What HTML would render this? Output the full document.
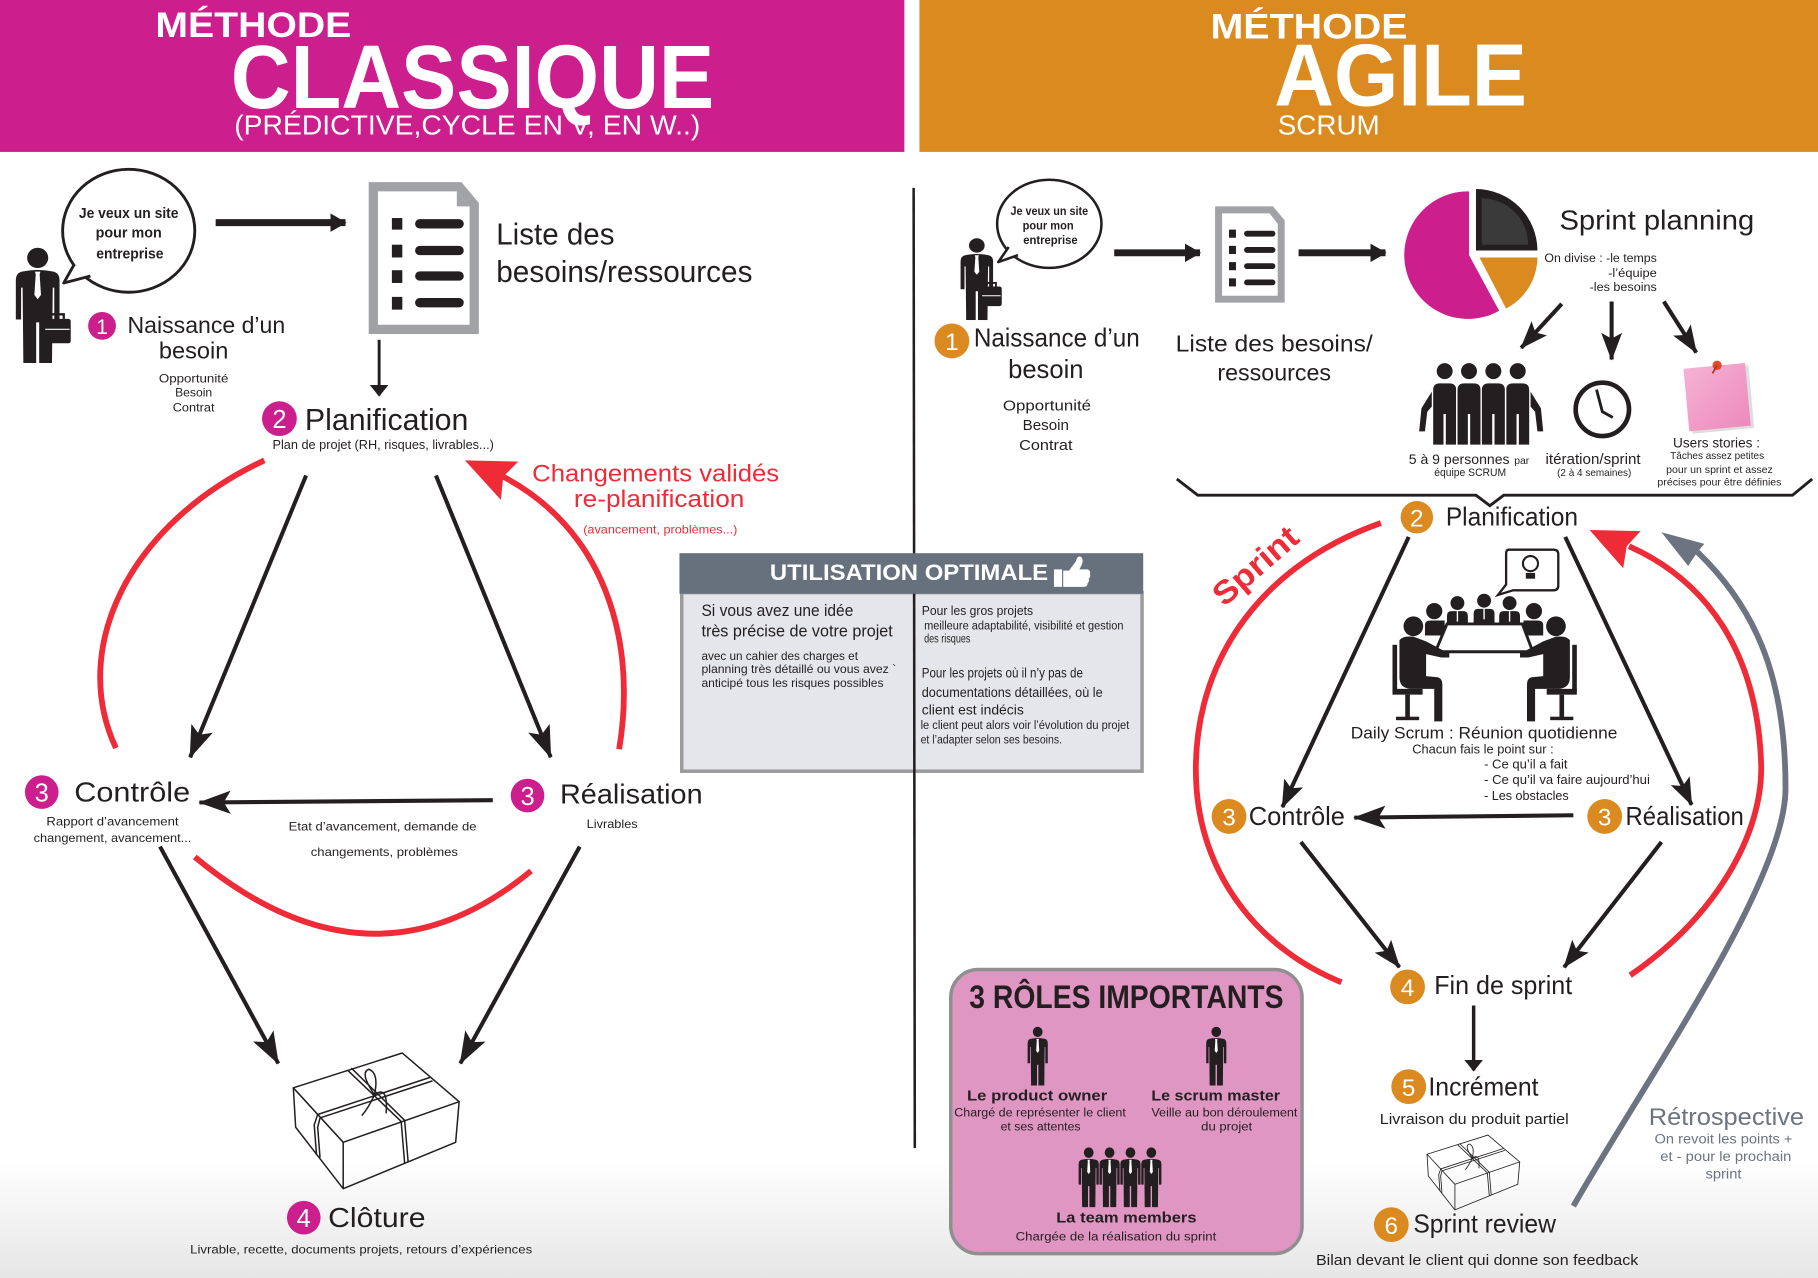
<!DOCTYPE html>
<html><head><meta charset="utf-8">
<style>
html,body{margin:0;padding:0;background:#fff;}
svg{display:block;}
text{font-family:"Liberation Sans",sans-serif;fill:#231f20;}
.w{fill:#fff;}
.r{fill:#EE2B36;}
.g{fill:#6B7480;}
</style></head><body>
<svg xmlns="http://www.w3.org/2000/svg" xmlns:xlink="http://www.w3.org/1999/xlink" width="1818" height="1278" viewBox="0 0 1568 1102" preserveAspectRatio="none">
<defs>
<linearGradient id="bg" x1="0" y1="0" x2="0" y2="1"><stop offset="0" stop-color="#fff"/><stop offset="1" stop-color="#e6e6e6"/></linearGradient>
<linearGradient id="pk" x1="0" y1="0" x2="1" y2="1"><stop offset="0" stop-color="#F6B4D5"/><stop offset="1" stop-color="#EC88BA"/></linearGradient>
<marker id="ab" viewBox="0 0 28 20" refX="27" refY="10" markerWidth="28" markerHeight="20" orient="auto" markerUnits="userSpaceOnUse"><path d="M0,0 L28,10 L0,20 L6,10 Z" fill="#231f20"/></marker>
<marker id="ab2" viewBox="0 0 24 18" refX="23" refY="9" markerWidth="24" markerHeight="18" orient="auto" markerUnits="userSpaceOnUse"><path d="M0,0 L24,9 L0,18 L5,9 Z" fill="#231f20"/></marker>
<marker id="at" viewBox="0 0 14 16" refX="13" refY="8" markerWidth="14" markerHeight="16" orient="auto" markerUnits="userSpaceOnUse"><path d="M0,0 L14,8 L0,16 Z" fill="#231f20"/></marker>
<marker id="as" viewBox="0 0 10 16" refX="9" refY="8" markerWidth="10" markerHeight="16" orient="auto" markerUnits="userSpaceOnUse"><path d="M0,0 L10,8 L0,16 Z" fill="#231f20"/></marker>
<symbol id="man" viewBox="0 0 30 80" preserveAspectRatio="none">
<circle cx="15" cy="7.5" r="7" fill="#231f20"/>
<path d="M4.5,17 Q15,14.5 25.5,17 Q29.5,18 29.5,23 L29.5,50 L26,50 L26,28 L25,28 L24.5,80 L16,80 L16,52 L14,52 L14,80 L5.5,80 L5,28 L4,28 L4,50 L0.5,50 L0.5,23 Q0.5,18 4.5,17 Z" fill="#231f20"/>
<path d="M13.2,17 L16.8,17 L16.3,19 L17.2,33 L15,36 L12.8,33 L13.7,19 Z" fill="#fff"/>
</symbol>
<symbol id="box" viewBox="248 903 152 127" preserveAspectRatio="none">
<g fill="none" stroke="#231f20" stroke-width="1.3" stroke-linejoin="round">
<path d="M253,938 L347,908 L396,950 L296,985 Z"/>
<path d="M253,938 L255,972 L296,1025 L296,985"/>
<path d="M296,1025 L393,985 L396,950"/>
<path d="M300,923 L346,967 M303,921 L349,966"/>
<path d="M371,929 L274,961 M373,932 L276,964"/>
<path d="M274,961 L271,970 L273,996 M276,964 L274,972 L276,998"/>
<path d="M346,967 L349,1003 M349,966 L352,1002"/>
<path d="M323,944 Q310,925 318,922 Q327,925 323,944 Q335,935 333,960 M323,944 Q318,955 312,962"/>
</g>
</symbol>
</defs>

<!-- background -->
<rect width="1568" height="1102" fill="#fff"/>
<rect x="0" y="1000" width="1568" height="102" fill="url(#bg)"/>

<!-- headers -->
<rect x="0" y="0" width="780" height="131" fill="#CC1F8D"/>
<rect x="793" y="0" width="775" height="131" fill="#DB8A1F"/>
<text class="w" x="134" y="32" font-size="30" font-weight="bold" textLength="169" lengthAdjust="spacingAndGlyphs">MÉTHODE</text>
<text class="w" x="199" y="93" font-size="78" font-weight="bold" textLength="417" lengthAdjust="spacingAndGlyphs">CLASSIQUE</text>
<text class="w" x="202" y="116" font-size="24" textLength="402" lengthAdjust="spacingAndGlyphs">(PRÉDICTIVE,CYCLE EN V, EN W..)</text>
<text class="w" x="1044" y="33" font-size="30" font-weight="bold" textLength="170" lengthAdjust="spacingAndGlyphs">MÉTHODE</text>
<text class="w" x="1099" y="91" font-size="76" font-weight="bold" textLength="218" lengthAdjust="spacingAndGlyphs">AGILE</text>
<text class="w" x="1102" y="116" font-size="24" textLength="88" lengthAdjust="spacingAndGlyphs">SCRUM</text>

<!-- ============ LEFT : CLASSIQUE ============ -->
<use href="#man" x="13" y="213" width="39" height="100"/>
<rect x="38" y="275" width="23" height="21" rx="2" fill="#231f20"/>
<path d="M44,275 v-4 h11 v4" fill="none" stroke="#231f20" stroke-width="2"/>
<line x1="39" y1="284" x2="60" y2="284" stroke="#fff" stroke-width="1"/>
<ellipse cx="111" cy="199" rx="57" ry="53" fill="#fff" stroke="#231f20" stroke-width="2.5"/>
<path d="M64,228 L55,244 L78,238" fill="#fff" stroke="#231f20" stroke-width="2.5" stroke-linejoin="round"/>
<text x="111" y="188" text-anchor="middle" font-size="13" font-weight="bold" textLength="86" lengthAdjust="spacingAndGlyphs">Je veux un site</text>
<text x="111" y="205" text-anchor="middle" font-size="13" font-weight="bold" textLength="57" lengthAdjust="spacingAndGlyphs">pour mon</text>
<text x="112" y="223" text-anchor="middle" font-size="13" font-weight="bold" textLength="58" lengthAdjust="spacingAndGlyphs">entreprise</text>

<line x1="186" y1="192" x2="298" y2="192" stroke="#231f20" stroke-width="6" marker-end="url(#at)"/>

<path d="M318,157 L398,157 L413,175 L413,288 L318,288 Z" fill="#A0A2A6"/>
<path d="M326,165 L394,165 L405,178 L405,280 L326,280 Z" fill="#fff"/>
<path d="M394,165 L394,178 L405,178 Z" fill="#A0A2A6"/>
<g fill="#231f20">
<rect x="338" y="188" width="9" height="10"/><rect x="358" y="189" width="42" height="8" rx="4"/>
<rect x="338" y="211" width="9" height="11"/><rect x="358" y="212" width="42" height="8" rx="4"/>
<rect x="338" y="233" width="9" height="11"/><rect x="358" y="234" width="42" height="8" rx="4"/>
<rect x="338" y="256" width="9" height="11"/><rect x="358" y="257" width="42" height="8" rx="4"/>
</g>
<text x="428" y="211" font-size="26" textLength="102" lengthAdjust="spacingAndGlyphs">Liste des</text>
<text x="428" y="243" font-size="26" textLength="221" lengthAdjust="spacingAndGlyphs">besoins/ressources</text>

<circle cx="88" cy="281" r="12" fill="#CC1F8D"/>
<text class="w" x="88" y="288" text-anchor="middle" font-size="18">1</text>
<text x="110" y="287" font-size="20" textLength="136" lengthAdjust="spacingAndGlyphs">Naissance d’un</text>
<text x="137" y="309" font-size="20" textLength="60" lengthAdjust="spacingAndGlyphs">besoin</text>
<text x="167" y="330" text-anchor="middle" font-size="10.5" textLength="60" lengthAdjust="spacingAndGlyphs">Opportunité</text>
<text x="167" y="342" text-anchor="middle" font-size="10.5" textLength="32" lengthAdjust="spacingAndGlyphs">Besoin</text>
<text x="167" y="355" text-anchor="middle" font-size="10.5" textLength="36" lengthAdjust="spacingAndGlyphs">Contrat</text>

<line x1="327" y1="293" x2="327" y2="341" stroke="#231f20" stroke-width="2.5" marker-end="url(#as)"/>

<circle cx="241" cy="361" r="15" fill="#CC1F8D"/>
<text class="w" x="241" y="369" text-anchor="middle" font-size="22">2</text>
<text x="263" y="371" font-size="26" textLength="141" lengthAdjust="spacingAndGlyphs">Planification</text>
<text x="235" y="387" font-size="11" textLength="191" lengthAdjust="spacingAndGlyphs">Plan de projet (RH, risques, livrables...)</text>

<g fill="none" stroke="#EE2B36" stroke-width="5">
<path d="M228,397 C110,452 60,560 100,645"/>
<path d="M534,646 C550,550 520,455 432,410"/>
<path d="M168,739 Q320,865 458,751"/>
</g>
<polygon points="401,397 447,398 434,411 432,431" fill="#EE2B36"/>
<text class="r" x="459" y="415" font-size="21" textLength="213" lengthAdjust="spacingAndGlyphs">Changements validés</text>
<text class="r" x="495" y="437" font-size="21" textLength="147" lengthAdjust="spacingAndGlyphs">re-planification</text>
<text class="r" x="503" y="460" font-size="10.5" textLength="133" lengthAdjust="spacingAndGlyphs">(avancement, problèmes...)</text>

<g stroke="#231f20" stroke-width="3.5" fill="none">
<line x1="264" y1="410" x2="164" y2="653" marker-end="url(#ab)"/>
<line x1="376" y1="410" x2="475" y2="653" marker-end="url(#ab)"/>
<line x1="425" y1="690" x2="172" y2="692" marker-end="url(#ab)"/>
<line x1="138" y1="730" x2="240" y2="917" marker-end="url(#ab)"/>
<line x1="500" y1="730" x2="397" y2="917" marker-end="url(#ab)"/>
</g>

<circle cx="36" cy="683" r="14.5" fill="#CC1F8D"/>
<text class="w" x="36" y="691" text-anchor="middle" font-size="22">3</text>
<text x="64" y="691" font-size="24" textLength="100" lengthAdjust="spacingAndGlyphs">Contrôle</text>
<text x="97" y="712" text-anchor="middle" font-size="10.5" textLength="114" lengthAdjust="spacingAndGlyphs">Rapport d’avancement</text>
<text x="97" y="726" text-anchor="middle" font-size="10.5" textLength="136" lengthAdjust="spacingAndGlyphs">changement, avancement...</text>
<text x="249" y="716" font-size="10.5" textLength="162" lengthAdjust="spacingAndGlyphs">Etat d’avancement, demande de</text>
<text x="268" y="738" font-size="10.5" textLength="127" lengthAdjust="spacingAndGlyphs">changements, problèmes</text>
<circle cx="455" cy="686" r="14.5" fill="#CC1F8D"/>
<text class="w" x="455" y="694" text-anchor="middle" font-size="22">3</text>
<text x="483" y="693" font-size="24" textLength="123" lengthAdjust="spacingAndGlyphs">Réalisation</text>
<text x="506" y="714" font-size="10.5" textLength="44" lengthAdjust="spacingAndGlyphs">Livrables</text>

<use href="#box" x="248" y="903" width="152" height="127"/>
<circle cx="262" cy="1050" r="14.5" fill="#CC1F8D"/>
<text class="w" x="262" y="1058" text-anchor="middle" font-size="22">4</text>
<text x="283" y="1058" font-size="24" textLength="84" lengthAdjust="spacingAndGlyphs">Clôture</text>
<text x="164" y="1081" font-size="10.5" textLength="295" lengthAdjust="spacingAndGlyphs">Livrable, recette, documents projets, retours d’expériences</text>

<!-- ============ MIDDLE BOX ============ -->
<rect x="588" y="511" width="397" height="154" fill="#E4E6EB" stroke="#9B9B9B" stroke-width="3"/>
<line x1="788" y1="162" x2="789" y2="990" stroke="#231f20" stroke-width="2.2"/>
<rect x="586" y="477" width="400" height="35" fill="#67717E"/>
<text class="w" x="664" y="500" font-size="19" font-weight="bold" textLength="240" lengthAdjust="spacingAndGlyphs">UTILISATION OPTIMALE</text>
<path d="M909,491 h7 v15 h-7 z" fill="#fff"/>
<path d="M917,492 L922,492 L928,484 Q929,479 932,480 Q935,482 933,487 L931,491 L938,491 Q941,492 940,495 Q941,497 939,499 Q940,501 938,503 Q938,506 935,506 L917,506 Z" fill="#fff"/>
<text x="605" y="531" font-size="14.5" textLength="131" lengthAdjust="spacingAndGlyphs">Si vous avez une idée</text>
<text x="605" y="549" font-size="14.5" textLength="165" lengthAdjust="spacingAndGlyphs">très précise de votre projet</text>
<text x="605" y="569" font-size="10.5" textLength="135" lengthAdjust="spacingAndGlyphs">avec un cahier des charges et</text>
<text x="605" y="580.5" font-size="10.5" textLength="168" lengthAdjust="spacingAndGlyphs">planning très détaillé ou vous avez `</text>
<text x="605" y="592.5" font-size="10.5" textLength="157" lengthAdjust="spacingAndGlyphs">anticipé tous les risques possibles</text>
<text x="795" y="530.5" font-size="11.5" textLength="96" lengthAdjust="spacingAndGlyphs">Pour les gros projets</text>
<text x="797" y="543" font-size="10" textLength="172" lengthAdjust="spacingAndGlyphs">meilleure adaptabilité, visibilité et gestion</text>
<text x="797" y="554" font-size="10" textLength="40" lengthAdjust="spacingAndGlyphs">des risques</text>
<text x="795" y="584" font-size="12" textLength="139" lengthAdjust="spacingAndGlyphs">Pour les projets où il n’y pas de</text>
<text x="795" y="601" font-size="12" textLength="156" lengthAdjust="spacingAndGlyphs">documentations détaillées, où le</text>
<text x="795" y="616" font-size="12" textLength="88" lengthAdjust="spacingAndGlyphs">client est indécis</text>
<text x="794" y="628.5" font-size="10" textLength="180" lengthAdjust="spacingAndGlyphs">le client peut alors voir l’évolution du projet</text>
<text x="794" y="641" font-size="10" textLength="122" lengthAdjust="spacingAndGlyphs">et l’adapter selon ses besoins.</text>

<!-- ============ RIGHT : AGILE ============ -->
<use href="#man" x="828" y="205" width="29" height="71"/>
<rect x="846" y="247" width="18" height="17" rx="2" fill="#231f20"/>
<path d="M851,247 v-3 h8 v3" fill="none" stroke="#231f20" stroke-width="1.6"/>
<line x1="847" y1="255" x2="863" y2="255" stroke="#fff" stroke-width="0.8"/>
<ellipse cx="905" cy="193" rx="45" ry="38" fill="#fff" stroke="#231f20" stroke-width="2.2"/>
<path d="M870,213 L861,226 L878,220" fill="#fff" stroke="#231f20" stroke-width="2.2" stroke-linejoin="round"/>
<text x="905" y="185.5" text-anchor="middle" font-size="10" font-weight="bold" textLength="67" lengthAdjust="spacingAndGlyphs">Je veux un site</text>
<text x="904" y="198" text-anchor="middle" font-size="10" font-weight="bold" textLength="44" lengthAdjust="spacingAndGlyphs">pour mon</text>
<text x="906" y="210.5" text-anchor="middle" font-size="10" font-weight="bold" textLength="47" lengthAdjust="spacingAndGlyphs">entreprise</text>

<circle cx="821" cy="294" r="15" fill="#DB8A1F"/>
<text class="w" x="821" y="302" text-anchor="middle" font-size="21">1</text>
<text x="840" y="299" font-size="22" textLength="143" lengthAdjust="spacingAndGlyphs">Naissance d’un</text>
<text x="902" y="326" text-anchor="middle" font-size="22" textLength="65" lengthAdjust="spacingAndGlyphs">besoin</text>
<text x="903" y="354" text-anchor="middle" font-size="12.5" textLength="76" lengthAdjust="spacingAndGlyphs">Opportunité</text>
<text x="902" y="371" text-anchor="middle" font-size="12.5" textLength="40" lengthAdjust="spacingAndGlyphs">Besoin</text>
<text x="902" y="388" text-anchor="middle" font-size="12.5" textLength="46" lengthAdjust="spacingAndGlyphs">Contrat</text>

<line x1="961" y1="218" x2="1035" y2="218" stroke="#231f20" stroke-width="6" marker-end="url(#at)"/>
<line x1="1120" y1="218" x2="1195" y2="218" stroke="#231f20" stroke-width="6" marker-end="url(#at)"/>

<path d="M1048,178 L1098,178 L1108,190 L1108,261 L1048,261 Z" fill="#A0A2A6"/>
<path d="M1054,184 L1095,184 L1102,193 L1102,255 L1054,255 Z" fill="#fff"/>
<g fill="#231f20">
<rect x="1060" y="198" width="6" height="7"/><rect x="1073" y="199" width="27" height="5" rx="2.5"/>
<rect x="1060" y="212" width="6" height="7"/><rect x="1073" y="213" width="27" height="5" rx="2.5"/>
<rect x="1060" y="226" width="6" height="7"/><rect x="1073" y="227" width="27" height="5" rx="2.5"/>
<rect x="1060" y="240" width="6" height="7"/><rect x="1073" y="241" width="27" height="5" rx="2.5"/>
</g>
<text x="1014" y="303" font-size="20" textLength="170" lengthAdjust="spacingAndGlyphs">Liste des besoins/</text>
<text x="1050" y="328" font-size="20" textLength="98" lengthAdjust="spacingAndGlyphs">ressources</text>

<!-- pie -->
<path d="M1267,220 L1267,165 A55,55 0 1,0 1293,268 Z" fill="#CC1F8D"/>
<path d="M1273,216 L1273,163 A53,53 0 0,1 1326,216 Z" fill="#231f20"/>
<path d="M1278,211 L1278,171 A40,40 0 0,1 1318,211 Z" fill="#3a3a3a"/>
<path d="M1276,222 L1326,222 A50,50 0 0,1 1299,266 Z" fill="#DB8A1F"/>
<text x="1345" y="198" font-size="24" textLength="168" lengthAdjust="spacingAndGlyphs">Sprint planning</text>
<text x="1429" y="226" text-anchor="end" font-size="10" textLength="97" lengthAdjust="spacingAndGlyphs">On divise : -le temps</text>
<text x="1429" y="239" text-anchor="end" font-size="10" textLength="42" lengthAdjust="spacingAndGlyphs">-l’équipe</text>
<text x="1429" y="251" text-anchor="end" font-size="10" textLength="58" lengthAdjust="spacingAndGlyphs">-les besoins</text>

<g stroke="#231f20" stroke-width="3.5">
<line x1="1347" y1="262" x2="1312" y2="300" marker-end="url(#ab2)"/>
<line x1="1390" y1="260" x2="1390" y2="310" marker-end="url(#ab2)"/>
<line x1="1435" y1="260" x2="1463" y2="304" marker-end="url(#ab2)"/>
</g>

<!-- team icon -->
<g fill="#231f20">
<path d="M1236,336 L1226,352 L1224,372 L1229,372 L1231,355 L1239,346 Z"/>
<path d="M1319,336 L1329,352 L1331,372 L1326,372 L1324,355 L1316,346 Z"/>
</g>
<g fill="#231f20" stroke="#fff" stroke-width="1.2">
<path d="M1235.5,384 L1235.5,336 Q1235.5,330 1242,330 L1250,330 Q1256.5,330 1256.5,336 L1256.5,384 Z"/>
<path d="M1298.5,384 L1298.5,336 Q1298.5,330 1305,330 L1313,330 Q1319.5,330 1319.5,336 L1319.5,384 Z"/>
<path d="M1256.5,384 L1256.5,336 Q1256.5,330 1263,330 L1271,330 Q1277.5,330 1277.5,336 L1277.5,384 Z"/>
<path d="M1277.5,384 L1277.5,336 Q1277.5,330 1284,330 L1292,330 Q1298.5,330 1298.5,336 L1298.5,384 Z"/>
<circle cx="1246" cy="320" r="7.5"/><circle cx="1267" cy="320" r="7.5"/><circle cx="1288" cy="320" r="7.5"/><circle cx="1309" cy="320" r="7.5"/>
</g>
<g stroke="#fff" stroke-width="2">
<line x1="1246" y1="357" x2="1246" y2="384"/><line x1="1267" y1="357" x2="1267" y2="384"/><line x1="1288" y1="357" x2="1288" y2="384"/><line x1="1309" y1="357" x2="1309" y2="384"/>
</g>

<circle cx="1382" cy="353" r="23" fill="#fff" stroke="#231f20" stroke-width="4"/>
<polyline points="1377,336 1382,355 1391,360" fill="none" stroke="#231f20" stroke-width="2.5"/>

<polygon points="1455,320 1508,315 1513,369 1460,374" fill="#bbb" opacity="0.5"/>
<polygon points="1452,318 1505,313 1510,367 1457,372" fill="url(#pk)"/>
<circle cx="1481" cy="315" r="4" fill="#E0472B"/>
<line x1="1481" y1="315" x2="1477" y2="322" stroke="#B03020" stroke-width="1.5"/>

<text x="1215" y="400" font-size="12" textLength="87" lengthAdjust="spacingAndGlyphs">5 à 9 personnes</text>
<text x="1306" y="400" font-size="9" textLength="13" lengthAdjust="spacingAndGlyphs">par</text>
<text x="1237" y="410.6" font-size="9.5" textLength="62" lengthAdjust="spacingAndGlyphs">équipe SCRUM</text>
<text x="1333" y="400" font-size="12.5" textLength="82" lengthAdjust="spacingAndGlyphs">itération/sprint</text>
<text x="1343" y="410.6" font-size="9" textLength="64" lengthAdjust="spacingAndGlyphs">(2 à 4 semaines)</text>
<text x="1443" y="386" font-size="12" textLength="75" lengthAdjust="spacingAndGlyphs">Users stories :</text>
<text x="1481" y="396" text-anchor="middle" font-size="9" textLength="81" lengthAdjust="spacingAndGlyphs">Tâches assez petites</text>
<text x="1483" y="408" text-anchor="middle" font-size="9" textLength="92" lengthAdjust="spacingAndGlyphs">pour un sprint et assez</text>
<text x="1483" y="418.5" text-anchor="middle" font-size="9" textLength="107" lengthAdjust="spacingAndGlyphs">précises pour être définies</text>

<path d="M1015,413 L1033,427 L1273,427 L1285,436 L1297,427 L1546,427 L1563,413" fill="none" stroke="#231f20" stroke-width="2.5" stroke-linejoin="miter"/>

<!-- sprint arcs -->
<g fill="none" stroke-width="5">
<path d="M1357,1040 C1420,930 1540,760 1540,680 C1540,590 1518,528 1464,476" stroke="#6B7480"/>
<path d="M1191,451 C1080,490 1025,580 1032,680 C1038,760 1090,820 1157,847" stroke="#EE2B36"/>
<path d="M1406,841 C1480,790 1520,720 1519,660 C1516,560 1470,500 1405,471" stroke="#EE2B36"/>
</g>
<polygon points="1371,457 1415,458 1403,471 1400,490" fill="#EE2B36"/>
<polygon points="1433,459 1470,469 1464,476 1456,488" fill="#6B7480"/>
<text class="r" transform="translate(1089,495) rotate(-41)" text-anchor="middle" font-size="28" font-weight="bold" textLength="88" lengthAdjust="spacingAndGlyphs">Sprint</text>

<circle cx="1222" cy="446" r="14" fill="#DB8A1F"/>
<text class="w" x="1222" y="454" text-anchor="middle" font-size="21">2</text>
<text x="1247" y="453" font-size="22" textLength="114" lengthAdjust="spacingAndGlyphs">Planification</text>

<!-- meeting icon -->
<path d="M1301,474 H1340 Q1344,474 1344,478 V505 Q1344,509 1340,509 H1305 L1292,513 L1299,504 V478 Q1299,474 1301,474 Z" fill="#fff" stroke="#231f20" stroke-width="2"/>
<circle cx="1320" cy="486" r="6.5" fill="none" stroke="#231f20" stroke-width="1.8"/>
<rect x="1316" y="494" width="8" height="5" fill="#231f20"/>
<g fill="#231f20">
<circle cx="1257" cy="520" r="6"/><circle cx="1280" cy="518" r="6"/><circle cx="1302" cy="520" r="6"/>
<path d="M1248,541 V531 Q1248,527 1252,527 H1262 Q1266,527 1266,531 V541 Z"/>
<path d="M1271,541 V529 Q1271,525 1275,525 H1285 Q1289,525 1289,529 V541 Z"/>
<path d="M1293,541 V531 Q1293,527 1297,527 H1307 Q1311,527 1311,531 V541 Z"/>
<circle cx="1237" cy="527" r="7"/><circle cx="1323" cy="527" r="7"/>
<path d="M1229,548 V539 Q1229,535 1234,535 H1246 V548 Z"/>
<path d="M1331,548 V539 Q1331,535 1326,535 H1314 V548 Z"/>
</g>
<g stroke="#fff" stroke-width="1.2"><line x1="1257" y1="527" x2="1257" y2="536"/><line x1="1280" y1="525" x2="1280" y2="534"/><line x1="1302" y1="527" x2="1302" y2="536"/></g>
<path d="M1248,538 L1313,538 L1322,562 L1238,562 Z" fill="#fff" stroke="#231f20" stroke-width="2.5"/>
<g id="seatL" fill="#231f20">
<circle cx="1219" cy="540" r="8.5"/>
<path d="M1207,552 Q1210,548 1219,549 L1230,553 L1245,561 L1250,562 L1250,567 L1243,567 L1230,564 L1230,583 L1240,584 Q1244,585 1244,590 L1244,622 L1237,622 L1237,594 L1216,594 Q1207,593 1207,584 Z"/>
<rect x="1201" y="556" width="4" height="40"/>
<rect x="1201" y="594" width="26" height="5"/>
<rect x="1212" y="599" width="4" height="20"/>
<rect x="1204" y="618" width="20" height="3"/>
</g>
<use href="#seatL" transform="translate(2561,0) scale(-1,1)"/>

<text x="1165" y="636.7" font-size="14" textLength="230" lengthAdjust="spacingAndGlyphs">Daily Scrum : Réunion quotidienne</text>
<text x="1218" y="649.6" font-size="11" textLength="122" lengthAdjust="spacingAndGlyphs">Chacun fais le point sur :</text>
<text x="1280" y="662.6" font-size="11" textLength="72" lengthAdjust="spacingAndGlyphs">- Ce qu’il a fait</text>
<text x="1280" y="676" font-size="11" textLength="143" lengthAdjust="spacingAndGlyphs">- Ce qu’il va faire aujourd’hui</text>
<text x="1280" y="690" font-size="11" textLength="73" lengthAdjust="spacingAndGlyphs">- Les obstacles</text>

<g stroke="#231f20" stroke-width="3.5">
<line x1="1215" y1="463" x2="1106" y2="696" marker-end="url(#ab2)"/>
<line x1="1350" y1="463" x2="1459" y2="694" marker-end="url(#ab2)"/>
<line x1="1357" y1="703" x2="1168" y2="705" marker-end="url(#ab)"/>
<line x1="1122" y1="726" x2="1207" y2="834" marker-end="url(#ab2)"/>
<line x1="1433" y1="726" x2="1349" y2="834" marker-end="url(#ab2)"/>
<line x1="1271" y1="867" x2="1271" y2="923" stroke-width="3" marker-end="url(#as)"/>
</g>

<circle cx="1060" cy="704" r="15" fill="#DB8A1F"/>
<text class="w" x="1060" y="712" text-anchor="middle" font-size="21">3</text>
<text x="1077" y="711.6" font-size="22" textLength="83" lengthAdjust="spacingAndGlyphs">Contrôle</text>
<circle cx="1384" cy="704" r="15" fill="#DB8A1F"/>
<text class="w" x="1384" y="712" text-anchor="middle" font-size="21">3</text>
<text x="1402" y="711.6" font-size="22" textLength="102" lengthAdjust="spacingAndGlyphs">Réalisation</text>

<circle cx="1214" cy="851" r="15" fill="#DB8A1F"/>
<text class="w" x="1214" y="859" text-anchor="middle" font-size="21">4</text>
<text x="1237" y="857" font-size="22" textLength="119" lengthAdjust="spacingAndGlyphs">Fin de sprint</text>

<circle cx="1215" cy="937" r="15" fill="#DB8A1F"/>
<text class="w" x="1215" y="945" text-anchor="middle" font-size="21">5</text>
<text x="1232" y="944.5" font-size="22" textLength="95" lengthAdjust="spacingAndGlyphs">Incrément</text>
<text x="1190" y="969" font-size="12.5" textLength="163" lengthAdjust="spacingAndGlyphs">Livraison du produit partiel</text>

<use href="#box" x="1228" y="976" width="85" height="70"/>

<circle cx="1200" cy="1056" r="15" fill="#DB8A1F"/>
<text class="w" x="1200" y="1064" text-anchor="middle" font-size="21">6</text>
<text x="1219" y="1062.6" font-size="22" textLength="123" lengthAdjust="spacingAndGlyphs">Sprint review</text>
<text x="1135" y="1091" font-size="12.5" textLength="278" lengthAdjust="spacingAndGlyphs">Bilan devant le client qui donne son feedback</text>

<text class="g" x="1422" y="970" font-size="21" textLength="134" lengthAdjust="spacingAndGlyphs">Rétrospective</text>
<text class="g" x="1427" y="986" font-size="12" textLength="119" lengthAdjust="spacingAndGlyphs">On revoit les points +</text>
<text class="g" x="1432" y="1001" font-size="12" textLength="113" lengthAdjust="spacingAndGlyphs">et - pour le prochain</text>
<text class="g" x="1471" y="1016" font-size="12" textLength="31" lengthAdjust="spacingAndGlyphs">sprint</text>

<!-- roles box -->
<rect x="820" y="836" width="303" height="245" rx="24" fill="#E096C3" stroke="#8F8F8F" stroke-width="3"/>
<text x="836" y="869" font-size="28" font-weight="bold" textLength="271" lengthAdjust="spacingAndGlyphs">3 RÔLES IMPORTANTS</text>
<use href="#man" x="886" y="885" width="18" height="51"/>
<use href="#man" x="1040" y="885" width="18" height="51"/>
<text x="834" y="949" font-size="13" font-weight="bold" textLength="121" lengthAdjust="spacingAndGlyphs">Le product owner</text>
<text x="823" y="962.6" font-size="10" fill="#333" textLength="148" lengthAdjust="spacingAndGlyphs">Chargé de représenter le client</text>
<text x="863" y="975" font-size="10" textLength="69" lengthAdjust="spacingAndGlyphs">et ses attentes</text>
<text x="993" y="949" font-size="13" font-weight="bold" textLength="111" lengthAdjust="spacingAndGlyphs">Le scrum master</text>
<text x="993" y="962.6" font-size="10" textLength="126" lengthAdjust="spacingAndGlyphs">Veille au bon déroulement</text>
<text x="1036" y="975" font-size="10" textLength="44" lengthAdjust="spacingAndGlyphs">du projet</text>
<use href="#man" x="930" y="989" width="18" height="52"/>
<use href="#man" x="948" y="989" width="18" height="52"/>
<use href="#man" x="966" y="989" width="18" height="52"/>
<use href="#man" x="984" y="989" width="18" height="52"/>
<text x="911" y="1054" font-size="13" font-weight="bold" textLength="121" lengthAdjust="spacingAndGlyphs">La team members</text>
<text x="876" y="1069.6" font-size="10" textLength="173" lengthAdjust="spacingAndGlyphs">Chargée de la réalisation du sprint</text>
</svg>
</body></html>
